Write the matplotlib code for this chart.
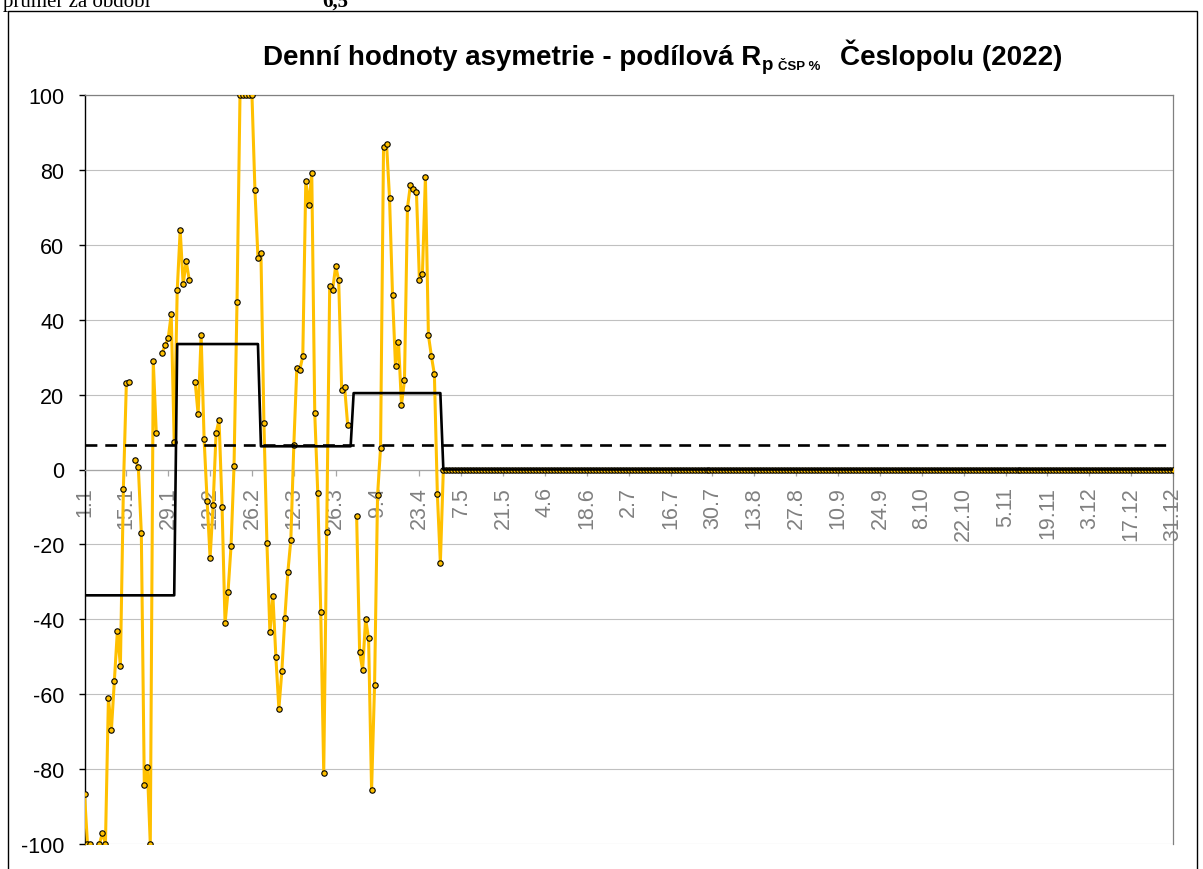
#!/usr/bin/env python
# -*- coding: utf-8 -*-
"""
Denní hodnoty asymetrie - podílová Rp ČSP %, Česlopol 2022
"""
import numpy as np
import matplotlib
matplotlib.use("Agg")
import matplotlib.pyplot as plt
from matplotlib.patches import Rectangle

nan = np.nan

# ------------ data ------------------------------------
jan = [-86.6, -100, -100, nan, nan, -100, -97, -100, -61, -69.5,
       -56.4, -43, -52.5, -5.1, 23.1, 23.4, nan, 2.5, 0.6, -16.9,
       -84.2, -79.4, -100, 28.9, 9.8, nan, 31.2, 33.2, 35.1, 41.4,
       7.3]
feb = [47.8, 63.9, 49.4, 55.7, 50.7, nan, 23.4, 14.7, 35.8, 8.1,
       -8.3, -23.6, -9.6, 9.7, 13.2, -9.9, -41.1, -32.6, -20.5, 0.9,
       44.7, 100, 100, 100, 100, 100, 74.5, 56.6]
mar = [57.9, 12.4, -19.5, -43.5, -33.7, -50.1, -63.9, -53.8, -39.6, -27.4,
       -18.8, 6.6, 27.1, 26.6, 30.3, 77.0, 70.5, 79.1, 15.0, -6.2,
       -38.0, -81.0, -16.6, 49.0, 48.0, 54.4, 50.5, 21.3, 21.9, 11.9,
       nan]
apr = [nan, -12.3, -48.7, -53.5, -39.9, -45.1, -85.6, -57.5, -6.9, 5.8,
       86.2, 87.0, 72.6, 46.7, 27.6, 34.1, 17.3, 23.8, 69.9, 76.0,
       75.0, 74.1, 50.5, 52.1, 78.1, 35.9, 30.3, 25.4, -6.6, -24.9]
may_dec = [0.0] * 245   # od 1.5. do 31.12. jen nuly

month_days = [31, 28, 31, 30, 31, 30, 31, 31, 30, 31, 30, 31]
month_mean = [-33.6, 33.5, 6.2, 20.4, 0, 0, 0, 0, 0, 0, 0, 0]
period_mean = 6.5

tick_labels = ["1.1", "15.1", "29.1", "12.2", "26.2", "12.3", "26.3", "9.4",
               "23.4", "7.5", "21.5", "4.6", "18.6", "2.7", "16.7", "30.7",
               "13.8", "27.8", "10.9", "24.9", "8.10", "22.10", "5.11",
               "19.11", "3.12", "17.12", "31.12"]

# ----------- parametry ------------
W, H = 1203, 870
plt.rcParams['font.family'] = ['Liberation Sans', 'DejaVu Sans']
plt.rcParams['axes.unicode_minus'] = False

days = np.arange(365)
values = np.array(jan + feb + mar + apr + may_dec, dtype=float)
monthly = np.repeat(month_mean, month_days)

# -----------------  Plot Start  -----------------
fig = plt.figure(figsize=(W / 100, H / 100), dpi=100)
ax = fig.add_axes([84.5 / W, 25 / H, 1088.5 / W, 749 / H])

ax.plot(days, values, color="#FFC000", lw=2.2, marker="o", ms=3.9,
        mfc="#FFC000", mec="black", mew=0.8, zorder=3)
ax.plot(days, monthly, color="black", lw=1.9, zorder=4)
ax.axhline(period_mean, color="black", lw=1.9, ls=(0, (4.5, 3)), zorder=4)

ax.set_xlim(0, 364)
ax.set_ylim(-100, 100)

ax.grid(axis="y", color="#C0C0C0", lw=0.8)
ax.set_axisbelow(True)
ax.spines["left"].set_color("black")
ax.spines["left"].set_linewidth(1.0)
for s in ["top", "right"]:
    ax.spines[s].set_color("#808080")
    ax.spines[s].set_linewidth(0.9)
ax.spines["bottom"].set_position(("data", 0))
ax.spines["bottom"].set_color("#A6A6A6")
ax.spines["bottom"].set_linewidth(0.9)

# ticky az po presunu osy (set_position je resetuje)
ax.set_yticks(range(-100, 101, 20))
ax.set_xticks(days[::14])
ax.set_xticklabels(tick_labels)
ax.tick_params(axis="y", direction="out", length=4.5, width=1, color="black",
               labelsize=15.5, pad=10)
ax.tick_params(axis="x", direction="out", length=4, width=0.9, color="#A6A6A6",
               labelsize=15.5, labelcolor="#808080", pad=8, labelrotation=90)
for lab in ax.get_xticklabels():
    lab.set_va("top")
    lab.set_ha("center")

# rámeček grafu
fig.add_artist(Rectangle((8 / W, -0.05), 1189 / W, 1 - 12 / H + 0.05,
                         transform=fig.transFigure, fill=False,
                         ec="black", lw=1.0))

# text nad grafem (useknutý)
fig.text(3 / W, 1 - 7 / H, "průměr za období", family="Liberation Serif",
         fontsize=15, va="baseline")
fig.text(322 / W, 1 - 7 / H, "6,5", family="Liberation Serif",
         fontsize=15, fontweight="bold", va="baseline")

# titulek s dolním indexem
renderer = fig.canvas.get_renderer()
inv = fig.transFigure.inverted()
y0 = 1 - 65 / H
t1 = fig.text(263 / W, y0, "Denní hodnoty asymetrie - podílová R",
              fontsize=20, fontweight="bold", va="baseline")
x1 = inv.transform(t1.get_window_extent(renderer))[1, 0]
t2 = fig.text(x1 + 1 / W, y0 - 5 / H, "p", fontsize=13.5, fontweight="bold",
              va="baseline")
x2 = inv.transform(t2.get_window_extent(renderer))[1, 0]
t3 = fig.text(x2 + 4 / W, y0 - 5 / H, "ČSP %", fontsize=9.5, fontweight="bold",
              va="baseline")
x3 = inv.transform(t3.get_window_extent(renderer))[1, 0]
fig.text(x3 + 20 / W, y0, "Česlopolu (2022)", fontsize=20, fontweight="bold",
         va="baseline")

fig.savefig("out.png", dpi=100)
